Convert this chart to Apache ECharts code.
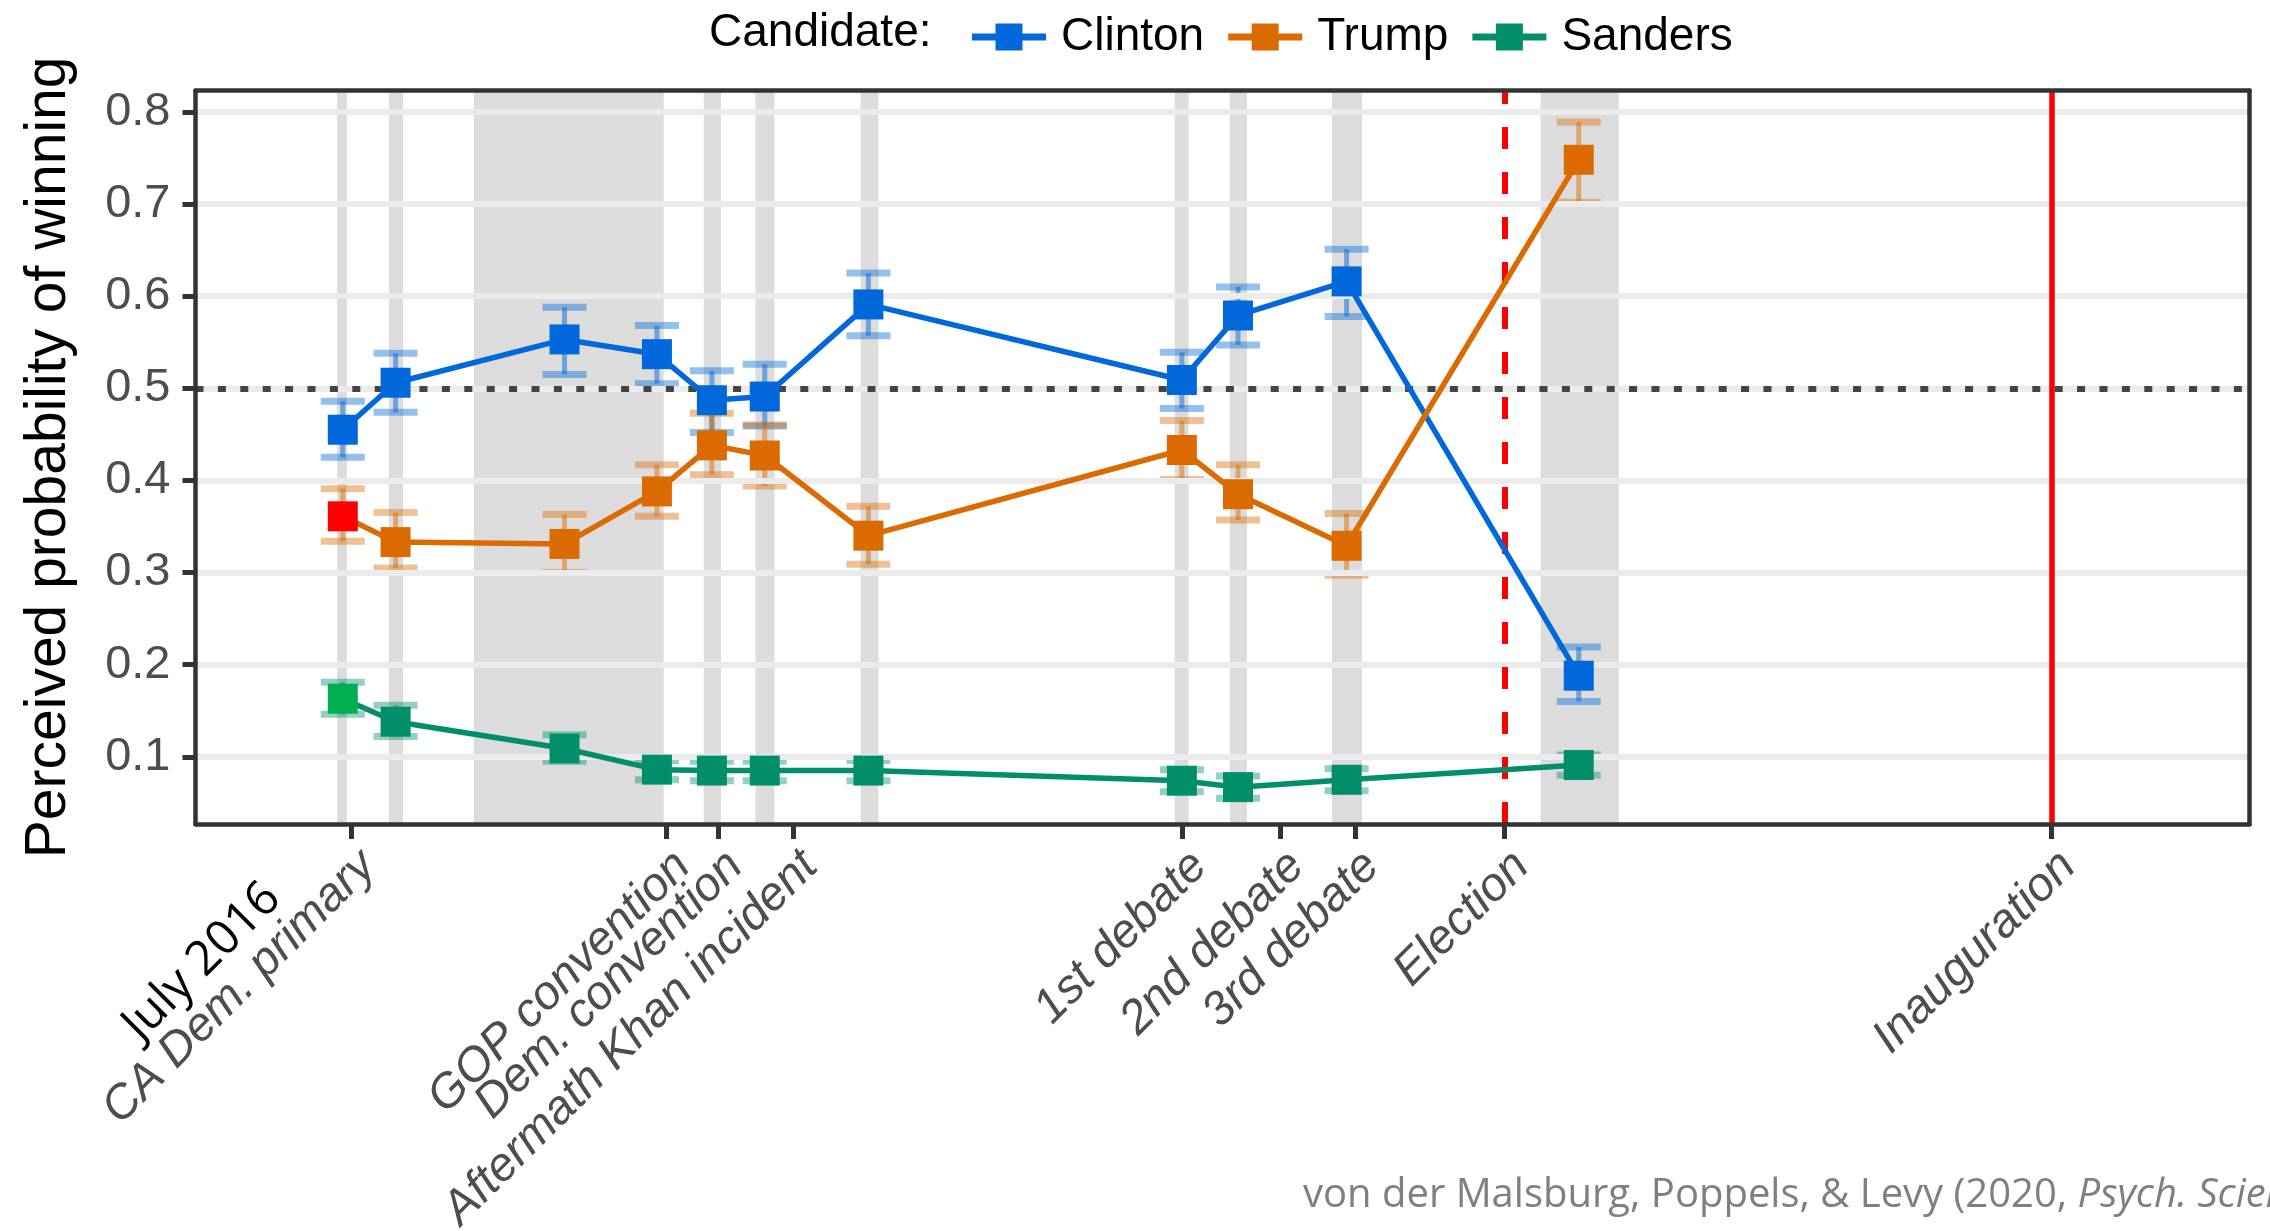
<!DOCTYPE html>
<html>
<head>
<meta charset="utf-8">
<script src="https://cdn.jsdelivr.net/npm/echarts@6/dist/echarts.min.js"></script>
<style>
html,body{margin:0;padding:0;background:#fff;}
#chart{width:2270px;height:1231px;}
</style>
</head>
<body>
<div id="chart"></div>
<script>
// ---- data (days counted from 1 June 2016) ----
const candidates = ['Clinton', 'Trump', 'Sanders'];
const pointDays = [4.85, 11.9, 34.46, 46.8, 54.14, 61.2, 75.04, 116.9, 124.4, 138.9, 169.9];

const clintonMean = [0.455, 0.506, 0.553, 0.537, 0.487, 0.491, 0.591, 0.509, 0.579, 0.616, 0.188];
const clintonLow  = [0.425, 0.474, 0.515, 0.505, 0.452, 0.459, 0.557, 0.478, 0.547, 0.578, 0.160];
const clintonHigh = [0.486, 0.538, 0.588, 0.568, 0.519, 0.526, 0.625, 0.539, 0.610, 0.651, 0.219];

const trumpMean = [0.361, 0.333, 0.331, 0.388, 0.438, 0.427, 0.340, 0.433, 0.385, 0.329, 0.748];
const trumpLow  = [0.334, 0.305, 0.300, 0.361, 0.406, 0.394, 0.309, 0.401, 0.357, 0.297, 0.702];
const trumpHigh = [0.391, 0.365, 0.363, 0.417, 0.473, 0.460, 0.372, 0.465, 0.417, 0.364, 0.789];

const sandersMean = [0.163, 0.138, 0.109, 0.086, 0.085, 0.085, 0.085, 0.074, 0.067, 0.075, 0.091];
const sandersLow  = [0.146, 0.122, 0.095, 0.075, 0.074, 0.074, 0.074, 0.062, 0.055, 0.063, 0.080];
const sandersHigh = [0.181, 0.156, 0.124, 0.096, 0.095, 0.095, 0.096, 0.086, 0.079, 0.087, 0.102];

// data-collection windows (shaded bands)
const bandStart = [4.1, 11.0, 22.35, 53.05, 59.95, 74.0, 115.95, 123.3, 136.95, 164.8];
const bandEnd   = [5.4, 12.9, 47.7, 55.35, 62.5, 76.4, 117.8, 125.6, 140.95, 175.25];

// x-axis event ticks
const xTickDays   = [6, 48, 55, 65, 117, 130, 140, 160, 233];
const xTickLabels = ['CA Dem. primary', 'GOP convention', 'Dem. convention', 'Aftermath Khan incident',
                     '1st debate', '2nd debate', '3rd debate', 'Election', 'Inauguration'];
const yTicks = [0.1, 0.2, 0.3, 0.4, 0.5, 0.6, 0.7, 0.8];
const electionDay = 160;
const inaugurationDay = 233;
const chanceLevel = 0.5;
const xRange = [-14.82, 259.5];
const yRange = [0.027, 0.823];

// ---- styles ----
const colors = {Clinton: '#0068DA', Trump: '#DB6B00', Sanders: '#008F6A'};
const firstPointColor = {Clinton: null, Trump: '#FF0000', Sanders: '#00B050'};
const FONT = "'Liberation Sans', Arial, sans-serif";

const seriesData = {
  Clinton: {mean: clintonMean, low: clintonLow, high: clintonHigh},
  Trump:   {mean: trumpMean,   low: trumpLow,   high: trumpHigh},
  Sanders: {mean: sandersMean, low: sandersLow, high: sandersHigh}
};

function errRenderer(color) {
  return function (params, api) {
    const x = api.value(0);
    const pLo = api.coord([x, api.value(1)]);
    const pHi = api.coord([x, api.value(2)]);
    const cw = 44;
    return {
      type: 'group',
      children: [
        {type: 'line', shape: {x1: pLo[0], y1: pLo[1], x2: pHi[0], y2: pHi[1]},
         style: {stroke: color, lineWidth: 5, opacity: 0.5}},
        {type: 'line', shape: {x1: pHi[0] - cw / 2, y1: pHi[1], x2: pHi[0] + cw / 2, y2: pHi[1]},
         style: {stroke: color, lineWidth: 7, opacity: 0.42}},
        {type: 'line', shape: {x1: pLo[0] - cw / 2, y1: pLo[1], x2: pLo[0] + cw / 2, y2: pLo[1]},
         style: {stroke: color, lineWidth: 7, opacity: 0.42}}
      ]
    };
  };
}

const series = [];
// horizontal grid lines
series.push({
  type: 'line', data: [], z: 1, silent: true,
  markLine: {
    silent: true, symbol: 'none', animation: false, label: {show: false},
    lineStyle: {color: '#EBEBEB', width: 6, type: 'solid'},
    data: yTicks.map(v => ({yAxis: v}))
  }
});
// shaded bands
series.push({
  type: 'line', data: [], z: 2, silent: true,
  markArea: {
    silent: true, animation: false,
    itemStyle: {color: '#DCDCDC'},
    data: bandStart.map((s, i) => [{xAxis: s}, {xAxis: bandEnd[i]}])
  }
});
// reference lines
series.push({
  type: 'line', data: [], z: 3, silent: true,
  markLine: {
    silent: true, symbol: 'none', animation: false, label: {show: false},
    data: [
      {yAxis: chanceLevel, lineStyle: {color: '#444444', width: 6, type: [8, 14.4]}},
      {xAxis: electionDay, lineStyle: {color: '#FF0000', width: 6, type: [22, 23]}},
      {xAxis: inaugurationDay, lineStyle: {color: '#FF0000', width: 5.5, type: 'solid'}}
    ]
  }
});

candidates.forEach(name => {
  const d = seriesData[name];
  series.push({
    type: 'custom', name: name + ' CI', z: 4, silent: true,
    renderItem: errRenderer(colors[name]),
    encode: {x: 0, y: [1, 2]},
    data: pointDays.map((x, i) => [x, d.low[i], d.high[i]])
  });
});
candidates.forEach(name => {
  const d = seriesData[name];
  series.push({
    type: 'line', name: name, z: 5,
    color: colors[name],
    symbol: 'rect', symbolSize: 30, showAllSymbol: true,
    lineStyle: {width: 5.5, color: colors[name]},
    itemStyle: {color: colors[name], opacity: 1},
    data: pointDays.map((x, i) => {
      if (i === 0 && firstPointColor[name]) {
        return {value: [x, d.mean[i]], itemStyle: {color: firstPointColor[name]}};
      }
      return [x, d.mean[i]];
    })
  });
});

const axisLineStyle = {color: '#333333', width: 4.5};
const option = {
  animation: false,
  backgroundColor: '#ffffff',
  textStyle: {fontFamily: FONT},
  grid: {left: 195.5, right: 20.3, top: 90.7, bottom: 407, containLabel: false, outerBoundsMode: 'none'},
  legend: {
    data: candidates,
    left: 967, top: 9,
    itemWidth: 74, itemHeight: 27, itemGap: 24,
    icon: 'path://M0,10 L23.5,10 L23.5,0 L50.5,0 L50.5,10 L74,10 L74,17 L50.5,17 L50.5,27 L23.5,27 L23.5,17 L0,17 Z',
    selectedMode: false,
    textStyle: {fontSize: 46, lineHeight: 46, color: '#000000', fontFamily: FONT, padding: [0, 0, 0, 10]}
  },
  xAxis: [
    {
      type: 'value', min: xRange[0], max: xRange[1], position: 'bottom', z: 10,
      axisLine: {show: true, onZero: false, lineStyle: axisLineStyle},
      axisTick: {show: true, customValues: xTickDays, length: 15, lineStyle: {color: '#333333', width: 5}},
      axisLabel: {
        customValues: xTickDays,
        formatter: v => xTickLabels[xTickDays.indexOf(v)] || '',
        rotate: 45, margin: 18, align: 'right', verticalAlign: 'top',
        fontSize: 47.5, fontStyle: 'italic', color: '#4D4D4D', fontFamily: FONT
      },
      splitLine: {show: false}
    },
    {
      type: 'value', min: xRange[0], max: xRange[1], position: 'top', z: 10,
      axisLine: {show: true, onZero: false, lineStyle: axisLineStyle},
      axisTick: {show: false}, axisLabel: {show: false}, splitLine: {show: false}
    }
  ],
  yAxis: [
    {
      type: 'value', min: yRange[0], max: yRange[1], position: 'left', z: 10,
      axisLine: {show: true, onZero: false, lineStyle: axisLineStyle},
      axisTick: {show: true, customValues: yTicks, length: 13, lineStyle: {color: '#333333', width: 5}},
      axisLabel: {
        customValues: yTicks, formatter: v => v.toFixed(1), margin: 25,
        fontSize: 47, color: '#4D4D4D', fontFamily: FONT
      },
      splitLine: {show: false},
      name: 'Perceived probability of winning',
      nameLocation: 'middle', nameRotate: 90, nameGap: 118,
      nameTextStyle: {fontSize: 57, color: '#000000', fontFamily: FONT}
    },
    {
      type: 'value', min: yRange[0], max: yRange[1], position: 'right', z: 10,
      axisLine: {show: true, onZero: false, lineStyle: axisLineStyle},
      axisTick: {show: false}, axisLabel: {show: false}, splitLine: {show: false}
    }
  ],
  graphic: [
    {
      type: 'text', x: 709, y: 33, silent: true,
      style: {text: 'Candidate:', fontSize: 46, fill: '#000000', fontFamily: FONT, verticalAlign: 'middle'}
    },
    {
      type: 'text', x: 256, y: 874, rotation: Math.PI / 4, silent: true,
      style: {text: 'July 2016', fontSize: 48, fill: '#000000', fontFamily: "'Open Sans', sans-serif",
              align: 'right', verticalAlign: 'top'}
    },
    {
      type: 'text', x: 1303, y: 1196, silent: true,
      style: {
        text: '{n|von der Malsburg, Poppels, & Levy (2020, }{i|Psych. Science)}',
        verticalAlign: 'middle',
        rich: {
          n: {fontSize: 40, fill: '#7F7F7F', fontFamily: "'Open Sans', sans-serif"},
          i: {fontSize: 40, fill: '#7F7F7F', fontStyle: 'italic', fontFamily: "'Open Sans', sans-serif"}
        }
      }
    }
  ],
  series: series
};

const chart = echarts.init(document.getElementById('chart'), null, {renderer: 'canvas', width: 2270, height: 1231});
chart.setOption(option);
</script>
</body>
</html>
